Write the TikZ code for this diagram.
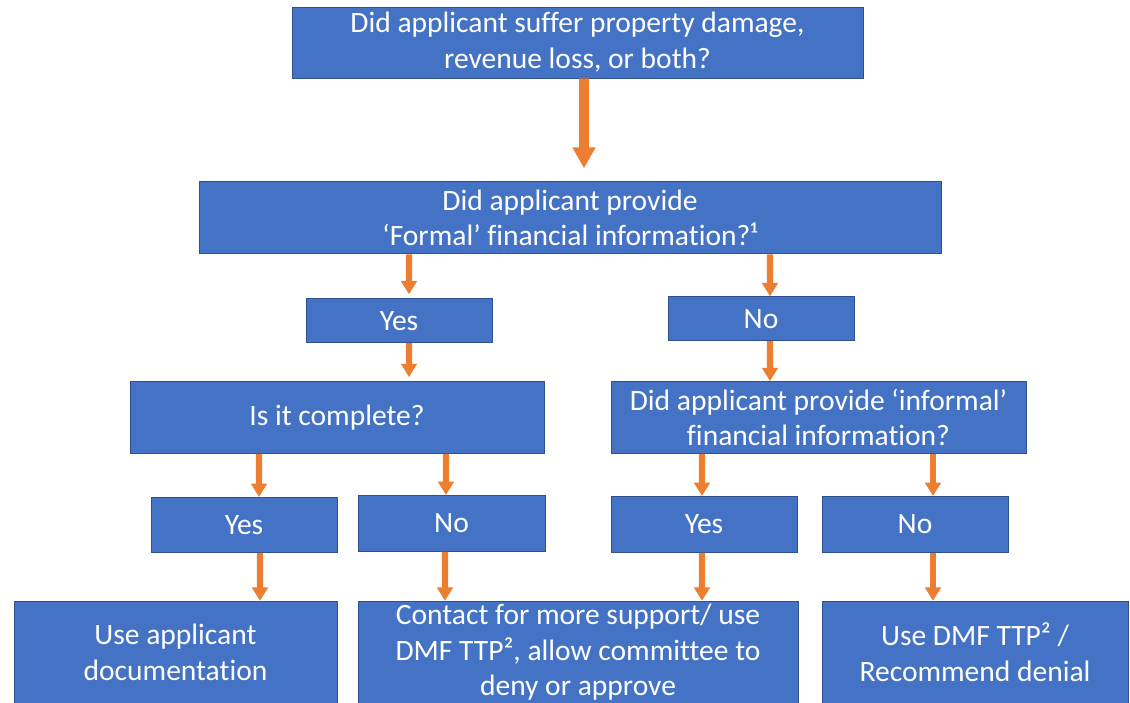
\documentclass[tikz,border=0pt]{standalone}
\usepackage{fontspec}
\setmainfont{Carlito}[Ligatures={TeX,NoCommon}]
\usetikzlibrary{positioning,arrows.meta}
\definecolor{boxblue}{HTML}{4472C4}
\definecolor{boxline}{HTML}{2F528F}
\definecolor{arrorange}{HTML}{ED7D31}

\begin{document}
\begin{tikzpicture}
    \tikzstyle{q} = [rectangle, draw=boxline, line width=0.6pt, fill=boxblue, text=white, align=center, inner sep=0pt, font=\fontsize{21}{25.5}\selectfont]
    \tikzstyle{arrow} = [draw=arrorange, line width=4.3pt, -{Triangle[width=11pt,length=9.5pt]}]
    \tikzstyle{bigarrow} = [draw=arrorange, line width=7pt, -{Triangle[width=15.5pt,length=15pt]}]
    \clip (0,0) rectangle (28.25,-17.575);
        \node (top) [q, minimum width=14.275cm, minimum height=1.775cm] at (14.4375,-1.0625) {Did applicant suffer property damage,\\ revenue loss, or both?};
        \node (fin) [q, minimum width=18.55cm, minimum height=1.8cm, below=2.575cm of top, xshift=-0.1875cm] {Did applicant provide\\ `Formal' financial information?¹};
        \node (yes1) [q, minimum width=4.65cm, minimum height=1.1cm, below=1.1cm of fin, xshift=-4.275cm] {Yes};
        \node (no1) [q, minimum width=4.65cm, minimum height=1.1cm, below=1.05cm of fin, xshift=4.775cm] {No};
        \node (comp) [q, minimum width=10.35cm, minimum height=1.8cm, below=0.95cm of yes1, xshift=-1.55cm] {Is it complete?};
        \node (inf) [q, minimum width=10.375cm, minimum height=1.8cm, below=1cm of no1, xshift=1.4375cm] {Did applicant provide `informal'\\ financial information?};
        \node (yes2) [q, minimum width=4.65cm, minimum height=1.375cm, below=1.075cm of comp, xshift=-2.325cm] {Yes};
        \node (no2) [q, minimum width=4.675cm, minimum height=1.4cm, below=1.025cm of comp, xshift=2.8625cm] {No};
        \node (yes3) [q, minimum width=4.65cm, minimum height=1.4cm, below=1.05cm of inf, xshift=-2.8625cm] {Yes};
        \node (no3) [q, minimum width=4.65cm, minimum height=1.4cm, below=1.05cm of inf, xshift=2.4125cm] {No};
        \node (use) [q, minimum width=8.075cm, minimum height=2.55cm, below=1.2cm of yes2, xshift=-1.7125cm] {Use applicant\\ documentation};
        \node (contact) [q, minimum width=11cm, minimum height=2.55cm, below=1.225cm of no2, xshift=3.1625cm] {Contact for more support/ use\\ DMF TTP², allow committee to\\ deny or approve};
        \node (deny) [q, minimum width=7.65cm, minimum height=2.55cm, below=1.2cm of no3, xshift=1.5cm] {Use DMF TTP² /\\ Recommend denial};
        \draw[bigarrow, shorten >=0.325cm] ([xshift=0.1625cm]top.south) -- ([xshift=0.35cm]fin.north);
        \draw[arrow, shorten >=0.1cm] ([xshift=-4.025cm]fin.south) -- ([xshift=0.25cm]yes1.north);
        \draw[arrow] ([xshift=5cm]fin.south) -- ([xshift=0.225cm]no1.north);
        \draw[arrow, shorten >=0.1cm] ([xshift=0.25cm]yes1.south) -- ([xshift=1.8cm]comp.north);
        \draw[arrow] ([xshift=0.225cm]no1.south) -- ([xshift=-1.2125cm]inf.north);
        \draw[arrow] ([xshift=-1.95cm]comp.south) -- ([xshift=0.375cm]yes2.north);
        \draw[arrow] ([xshift=2.725cm]comp.south) -- ([xshift=-0.1375cm]no2.north);
        \draw[arrow] ([xshift=-2.9125cm]inf.south) -- ([xshift=-0.05cm]yes3.north);
        \draw[arrow] ([xshift=2.8625cm]inf.south) -- ([xshift=0.45cm]no3.north);
        \draw[arrow] ([xshift=0.4cm]yes2.south) -- ([xshift=2.1125cm]use.north);
        \draw[arrow] ([xshift=-0.1625cm]no2.south) -- ([xshift=-3.325cm]contact.north);
        \draw[arrow] ([xshift=-0.05cm]yes3.south) -- ([xshift=3.1cm]contact.north);
        \draw[arrow] ([xshift=0.45cm]no3.south) -- ([xshift=-1.05cm]deny.north);
\end{tikzpicture}
\end{document}
